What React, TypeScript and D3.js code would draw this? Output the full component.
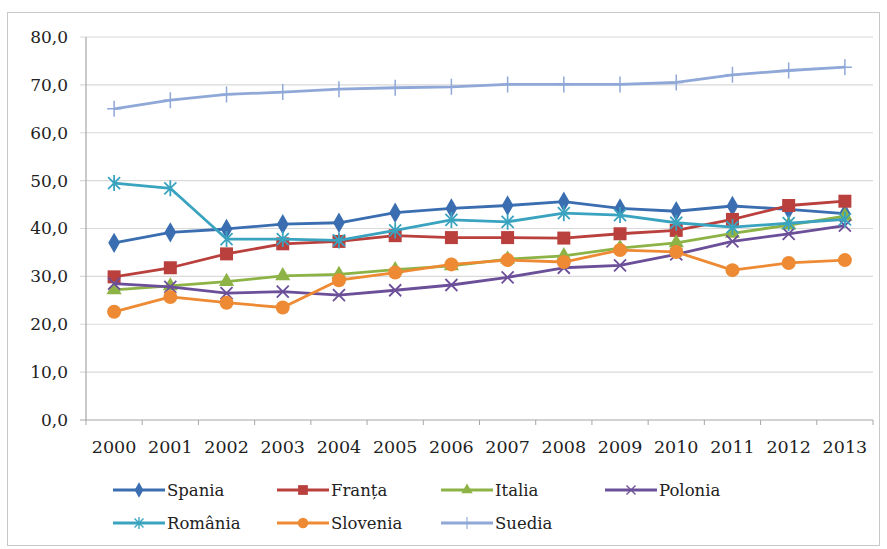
import React from "react";
import * as d3 from "d3";

const years = [2000, 2001, 2002, 2003, 2004, 2005, 2006, 2007, 2008, 2009, 2010, 2011, 2012, 2013];
const yTicks = [0, 10, 20, 30, 40, 50, 60, 70, 80];

const spania = [37.0, 39.2, 39.9, 40.9, 41.2, 43.3, 44.2, 44.8, 45.6, 44.2, 43.6, 44.7, 44.0, 43.1];
const franta = [29.9, 31.8, 34.7, 36.8, 37.3, 38.5, 38.1, 38.1, 38.0, 38.9, 39.6, 41.9, 44.8, 45.7];
const italia = [27.2, 28.0, 28.9, 30.1, 30.4, 31.4, 32.2, 33.6, 34.3, 35.9, 37.0, 39.0, 40.7, 42.6];
const polonia = [28.5, 27.8, 26.5, 26.8, 26.1, 27.1, 28.2, 29.8, 31.8, 32.3, 34.6, 37.3, 38.9, 40.6];
const romania = [49.5, 48.4, 37.8, 37.8, 37.5, 39.6, 41.8, 41.4, 43.2, 42.8, 41.2, 40.3, 41.1, 41.9];
const slovenia = [22.6, 25.7, 24.5, 23.5, 29.2, 30.8, 32.5, 33.4, 33.0, 35.5, 35.1, 31.3, 32.8, 33.4];
const suedia = [65.0, 66.8, 68.0, 68.5, 69.1, 69.4, 69.6, 70.1, 70.1, 70.1, 70.5, 72.1, 73.0, 73.7];

type Marker = "diamond" | "square" | "triangle" | "x" | "star" | "circle" | "plus";

const series: { name: string; values: number[]; color: string; marker: Marker }[] = [
  { name: "Spania", values: spania, color: "#3A6EB0", marker: "diamond" },
  { name: "Franța", values: franta, color: "#B9403D", marker: "square" },
  { name: "Italia", values: italia, color: "#8DB346", marker: "triangle" },
  { name: "Polonia", values: polonia, color: "#6C4F99", marker: "x" },
  { name: "România", values: romania, color: "#3AA3BF", marker: "star" },
  { name: "Slovenia", values: slovenia, color: "#ED8A33", marker: "circle" },
  { name: "Suedia", values: suedia, color: "#8FA8D8", marker: "plus" },
];

const W = 887;
const H = 549;
const plot = { left: 86, right: 873, top: 37, bottom: 420 };
const font = "'DejaVu Serif', 'Liberation Serif', serif";

const x = d3
  .scaleBand<number>()
  .domain(years)
  .range([plot.left, plot.right]);
const y = d3.scaleLinear().domain([0, 80]).range([plot.bottom, plot.top]);
const fmt = (v: number) => d3.format(".1f")(v).replace(".", ",");

const MarkerShape: React.FC<{ kind: Marker; cx: number; cy: number; color: string; small?: boolean }> = ({
  kind,
  cx,
  cy,
  color,
  small,
}) => {
  const k = small ? 0.75 : 1;
  const t = `translate(${cx},${cy}) scale(${k})`;
  if (kind === "diamond")
    return <path transform={t} d={d3.symbol(d3.symbolDiamond, 120)()!} fill={color} />;
  if (kind === "square") return <path transform={t} d="M-6.5,-6.5H6.5V6.5H-6.5Z" fill={color} />;
  if (kind === "triangle")
    return <path transform={t} d={d3.symbol(d3.symbolTriangle, 100)()!} fill={color} />;
  if (kind === "circle") return <circle transform={t} r={7} fill={color} />;
  if (kind === "x")
    return (
      <path transform={t} d="M-6,-6L6,6M-6,6L6,-6" stroke={color} strokeWidth={1.8} fill="none" />
    );
  if (kind === "star")
    return (
      <path
        transform={t}
        d="M-6,-6L6,6M-6,6L6,-6M0,-8L0,8"
        stroke={color}
        strokeWidth={1.8}
        fill="none"
      />
    );
  return <path transform={t} d="M-7,0L7,0M0,-8L0,8" stroke={color} strokeWidth={1.5} fill="none" />;
};

export default function App() {
  const cx = (yr: number) => x(yr)! + x.bandwidth() / 2;
  const line = d3
    .line<number>()
    .x((_, i) => cx(years[i]))
    .y((d) => y(d));

  const legendCols = [113, 277, 441, 605];
  const legendRows = [490, 523];
  const txt = { fontFamily: font };

  return (
    <svg
      width={W}
      height={H}
      style={{ position: "absolute", left: 0, top: 0, background: "#fff", fontFamily: font }}
    >
      <rect x={7.5} y={12.5} width={872} height={533} fill="#fff" stroke="#C8C8C8" />

      {/* gridlines + y labels */}
      {yTicks.map((t) => (
        <g key={t}>
          <line
            x1={plot.left - 6}
            x2={plot.right}
            y1={y(t)}
            y2={y(t)}
            stroke={t === 0 ? "#A6A6A6" : "#D9D9D9"}
            strokeWidth={1.2}
          />
          <text x={68} y={y(t)} dy="0.35em" textAnchor="end" fontSize={17} fill="#222" style={txt}>
            {fmt(t)}
          </text>
        </g>
      ))}
      <line x1={plot.left} x2={plot.left} y1={plot.top} y2={plot.bottom} stroke="#A6A6A6" strokeWidth={1.2} />

      {/* x ticks and labels */}
      {years.map((yr) => (
        <g key={yr}>
          <line x1={x(yr)!} x2={x(yr)!} y1={plot.bottom} y2={plot.bottom + 5} stroke="#A6A6A6" />
          <text x={cx(yr)} y={plot.bottom + 33} textAnchor="middle" fontSize={17.5} fill="#222" style={txt}>
            {yr}
          </text>
        </g>
      ))}
      <line x1={plot.right} x2={plot.right} y1={plot.bottom} y2={plot.bottom + 5} stroke="#A6A6A6" />

      {/* series */}
      {series.map((s) => (
        <g key={s.name}>
          <path d={line(s.values)!} fill="none" stroke={s.color} strokeWidth={2.8} strokeLinejoin="round" />
          {s.values.map((v, i) => (
            <MarkerShape key={i} kind={s.marker} cx={cx(years[i])} cy={y(v)} color={s.color} />
          ))}
        </g>
      ))}

      {/* legend */}
      {series.map((s, i) => {
        const lx = legendCols[i % 4];
        const ly = legendRows[Math.floor(i / 4)];
        return (
          <g key={s.name}>
            <line x1={lx} x2={lx + 52} y1={ly} y2={ly} stroke={s.color} strokeWidth={2.8} />
            <MarkerShape kind={s.marker} cx={lx + 26} cy={ly} color={s.color} small />
            <text x={lx + 54} y={ly} dy="0.35em" fontSize={16.5} fill="#222" style={txt}>
              {s.name}
            </text>
          </g>
        );
      })}
    </svg>
  );
}
